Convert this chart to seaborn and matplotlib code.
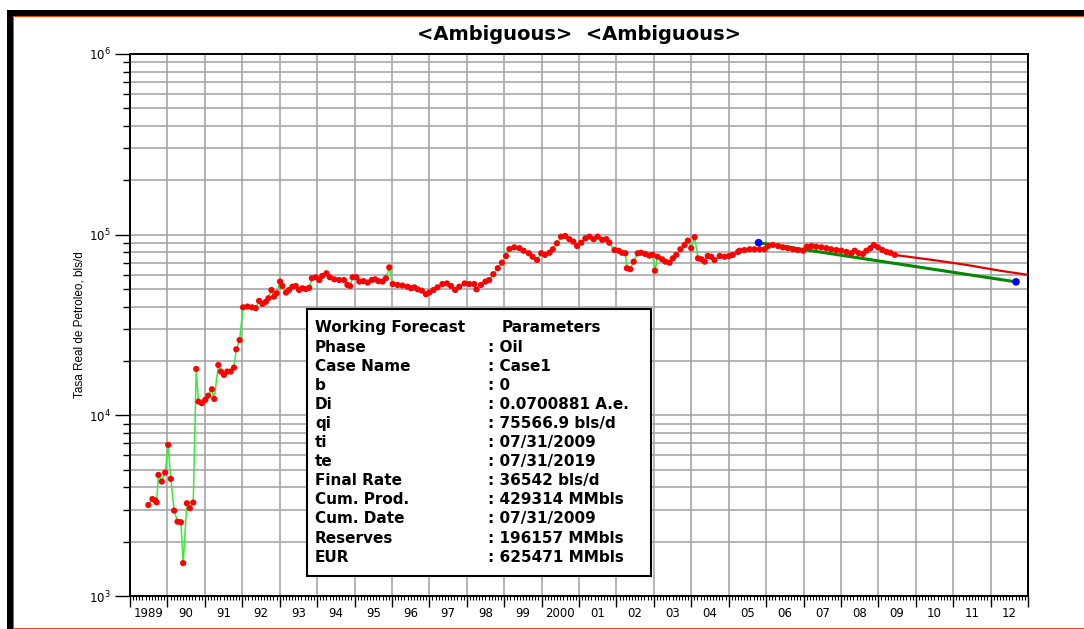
import numpy as np
import pandas as pd
import matplotlib
matplotlib.use("Agg")
import matplotlib.pyplot as plt
import seaborn as sns
from matplotlib.patches import Rectangle
from matplotlib.ticker import LogLocator, MultipleLocator, NullFormatter

# historical monthly oil rate (decimal year, bls/d)
hist_t = [1989.49, 1989.60, 1989.67, 1989.71, 1989.76, 1989.85, 1989.94, 1990.02, 1990.09, 1990.18,
          1990.27, 1990.36, 1990.42, 1990.52, 1990.60, 1990.69, 1990.77, 1990.83, 1990.92, 1991.01,
          1991.09, 1991.19, 1991.25, 1991.36, 1991.43, 1991.51, 1991.60, 1991.69, 1991.78, 1991.84,
          1991.93,
          1992.02, 1992.14, 1992.26, 1992.36, 1992.45, 1992.54, 1992.63, 1992.70, 1992.78, 1992.85,
          1992.92, 1993.01, 1993.07, 1993.17, 1993.25, 1993.34, 1993.43, 1993.52, 1993.61, 1993.70,
          1993.79, 1993.86, 1993.97, 1994.06, 1994.14, 1994.25, 1994.34, 1994.46, 1994.59, 1994.72,
          1994.81, 1994.88, 1994.95, 1995.05, 1995.13, 1995.24, 1995.35, 1995.46, 1995.55, 1995.64,
          1995.75,
          1995.84, 1995.93, 1996.02, 1996.15, 1996.28, 1996.42, 1996.51, 1996.60, 1996.69, 1996.80,
          1996.91, 1997.00, 1997.11, 1997.22, 1997.35, 1997.47, 1997.58, 1997.69, 1997.80, 1997.94,
          1998.07, 1998.20, 1998.26, 1998.38, 1998.50, 1998.60, 1998.71, 1998.83, 1998.94, 1999.05,
          1999.14, 1999.27, 1999.41, 1999.52, 1999.66, 1999.76, 1999.88, 1999.99, 2000.09, 2000.21,
          2000.30, 2000.41, 2000.52, 2000.63, 2000.74, 2000.85, 2000.95, 2001.06, 2001.17, 2001.28,
          2001.39, 2001.50, 2001.62, 2001.73, 2001.81, 2001.95, 2002.06, 2002.15, 2002.24, 2002.28,
          2002.37, 2002.46, 2002.57, 2002.66, 2002.77, 2002.88, 2002.97, 2003.03, 2003.10, 2003.22,
          2003.31, 2003.42, 2003.51, 2003.60, 2003.71, 2003.82, 2003.91, 2004.00, 2004.09, 2004.18,
          2004.27, 2004.36, 2004.44, 2004.53, 2004.62, 2004.76, 2004.89, 2005.01, 2005.11, 2005.25,
          2005.29, 2005.42, 2005.56, 2005.69, 2005.83, 2005.96, 2006.05, 2006.18, 2006.32, 2006.45,
          2006.58, 2006.72, 2006.85, 2006.99, 2007.09, 2007.21, 2007.34, 2007.48, 2007.61, 2007.74,
          2007.88, 2008.01, 2008.15, 2008.28, 2008.37, 2008.48, 2008.59, 2008.68, 2008.79, 2008.88,
          2008.99, 2009.11, 2009.22, 2009.32, 2009.44]
hist_q = [3190, 3440, 3390, 3300, 4680, 4300, 4820, 6860, 4450, 2970,
          2580, 2560, 1520, 3260, 3060, 3290, 18070, 11920, 11670, 12170,
          12850, 13940, 12330, 19000, 17470, 16740, 17470, 17470, 18370, 23200,
          26100,
          39600, 40000, 39600, 39200, 43000, 41400, 42500, 44500, 49400, 45400,
          47400, 55000, 52000, 47800, 49400, 51500, 52000, 49400, 50500, 50000,
          50800, 57400, 58100, 56100, 59100, 61100, 58100, 56600, 56100, 56100,
          52700, 52000, 58100, 58100, 55000, 55300, 54300, 56100, 56600, 55300,
          55000,
          57400, 65900, 53300, 52700, 52300, 51500, 50500, 51100, 49800, 49000,
          46800, 47800, 49400, 51100, 53300, 53700, 52000, 49400, 51500, 53700,
          53300, 53300, 49800, 52700, 55000, 56100, 60400, 65200, 70000, 76200,
          83300, 85100, 84200, 81500, 78900, 75500, 72400, 78900, 77300, 79400,
          83000, 89600, 97500, 98400, 94400, 91500, 86500, 90300, 95500, 97500,
          94400, 97500, 93600, 94400, 90300, 82200, 81500, 79400, 78900, 65200,
          64400, 70900, 78900, 79400, 78200, 76600, 77300, 63200, 75500, 73100,
          70900, 70000, 74000, 77300, 83000, 87700, 92700, 84200, 96900, 74000,
          73100, 70900, 76200, 75500, 72400, 76200, 75500, 76200, 77300, 80300,
          81500, 82200, 83000, 83000, 83000, 83000, 86500, 87700, 86500, 85100,
          84200, 83000, 82200, 81500, 85700, 86500, 85700, 85100, 84200, 83000,
          82200, 81500, 80300, 78900, 81500, 78900, 78200, 81500, 84200, 87700,
          85100, 82200, 80300, 79400, 77300]

# thin red continuation after the history
ext_t = [2009.44, 2009.57, 2010.46, 2011.36, 2012.25, 2013.05]
ext_q = [77300, 76600, 72400, 68000, 63200, 59700]

# working forecast (exponential, straight on log scale)
fc_t = [2005.80, 2012.68]
fc_q = [90300, 54800]

years = list(range(1989, 2013))
year_labels = ["1989", "90", "91", "92", "93", "94", "95", "96", "97", "98", "99", "2000",
               "01", "02", "03", "04", "05", "06", "07", "08", "09", "10", "11", "12"]

param_names = ["Phase", "Case Name", "b", "Di", "qi", "ti", "te", "Final Rate",
               "Cum. Prod.", "Cum. Date", "Reserves", "EUR"]
param_values = ["Oil", "Case1", "0", "0.0700881 A.e.", "75566.9 bls/d", "07/31/2009",
                "07/31/2019", "36542 bls/d", "429314 MMbls", "07/31/2009",
                "196157 MMbls", "625471 MMbls"]

hist = pd.DataFrame({"year": hist_t, "rate": hist_q})
ext = pd.DataFrame({"year": ext_t, "rate": ext_q})
fc = pd.DataFrame({"year": fc_t, "rate": fc_q})

sns.set_style("white")
plt.rcParams["font.family"] = ["DejaVu Sans"]
for k in ["text.color", "axes.labelcolor", "xtick.color", "ytick.color"]:
    plt.rcParams[k] = "black"

W, H = 1084, 629
fig = plt.figure(figsize=(W / 100, H / 100), dpi=100)
ax = fig.add_axes([130 / W, 1 - 596 / H, 898 / W, 542 / H])

ax.set_yscale("log")

# series
sns.lineplot(data=fc, x="year", y="rate", color="#008800", lw=2.2, ax=ax, zorder=2)
sns.lineplot(data=hist, x="year", y="rate", sort=False, estimator=None,
             color="#33ee33", lw=1.1, ax=ax, zorder=3)
sns.scatterplot(data=hist, x="year", y="rate", color="#ff0000", s=20, marker="o",
                edgecolor="none", ax=ax, zorder=4)
sns.lineplot(data=ext, x="year", y="rate", color="#e00000", lw=1.6, ax=ax, zorder=3)
sns.scatterplot(data=fc, x="year", y="rate", color="#0000ff", s=30, marker="o",
                edgecolor="none", ax=ax, zorder=5)

ax.set_xlim(1989, 2013)
ax.set_ylim(1e3, 1e6)

# y axis ticks / grid
ax.yaxis.set_major_locator(LogLocator(base=10, numticks=10))
ax.yaxis.set_minor_locator(LogLocator(base=10, subs=np.arange(2, 10), numticks=20))
ax.yaxis.set_minor_formatter(NullFormatter())
ax.tick_params(axis="y", which="major", length=11, width=1, direction="out",
               labelsize=8.5, pad=3, left=True, right=False)
ax.tick_params(axis="y", which="minor", length=5, width=1, direction="out",
               left=True, right=False)

# x axis ticks / grid
ax.set_xticks(years + [2013])
ax.set_xticklabels([""] * (len(years) + 1))
ax.xaxis.set_minor_locator(MultipleLocator(1 / 12))
ax.tick_params(axis="x", which="major", length=8, width=1, direction="out", bottom=True)
ax.tick_params(axis="x", which="minor", length=3, width=0.8, direction="out", bottom=True)

sec = ax.secondary_xaxis("bottom")
sec.set_xticks([y + 0.5 for y in years], year_labels)
sec.tick_params(length=0, pad=8, labelsize=8.5, colors="black")
sec.spines["bottom"].set_visible(False)

ax.grid(which="both", axis="y", color="#a0a0a0", lw=1.1)
ax.grid(which="major", axis="x", color="#a0a0a0", lw=1.1)
ax.set_axisbelow(True)

for s in ax.spines.values():
    s.set_color("black")
    s.set_linewidth(1.4)
    s.set_visible(True)

ax.set_xlabel("")
ax.set_ylabel("Tasa Real de Petroleo, bls/d", fontsize=8.5, family="Liberation Sans")
ax.yaxis.set_label_coords(-0.049, 0.5)
ax.set_title("<Ambiguous>  <Ambiguous>", fontweight="bold", fontsize=14, pad=10)

# parameter box
ax.add_patch(Rectangle((0.197, 0.037), 0.383, 0.4926, transform=ax.transAxes,
                       facecolor="white", edgecolor="black", lw=1.5, zorder=6, clip_on=False))
row0, step = 0.4945, 0.03524
tk = dict(transform=ax.transAxes, fontsize=11, fontweight="bold", va="center",
          color="black", zorder=7)
ax.text(0.206, row0, "Working Forecast", **tk)
ax.text(0.4143, row0, "Parameters", **tk)
for i, (n, v) in enumerate(zip(param_names, param_values)):
    y = row0 - (i + 1) * step
    ax.text(0.206, y, n, **tk)
    ax.text(0.3987, y, ": " + v, **tk)

# window frame
def frect(x0, y0, x1, y1, color):
    fig.add_artist(Rectangle((x0 / W, 1 - y1 / H), (x1 - x0) / W, (y1 - y0) / H,
                             transform=fig.transFigure, facecolor=color, edgecolor="none"))

frect(7, 10, W, 15.5, "black")
frect(13, 15.5, W, 17, "#ff4000")
frect(7, 10, 13, H, "black")
frect(13, 15.5, 14.2, H, "#ff4000")
frect(13, 627.5, W, H, "#ff4000")

fig.savefig("out.png", dpi=100)
